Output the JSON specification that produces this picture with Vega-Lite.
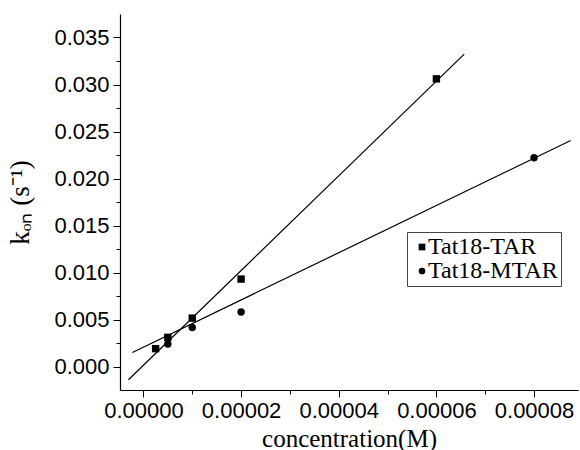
{
  "$schema": "https://vega.github.io/schema/vega-lite/v6.json",
  "width": 458,
  "height": 376,
  "autosize": "none",
  "padding": {"left": 120, "top": 14, "right": 2, "bottom": 60},
  "background": "white",
  "config": {
    "view": {"stroke": null},
    "axis": {
      "grid": false,
      "domainColor": "black",
      "domainWidth": 1.2,
      "tickColor": "black",
      "tickWidth": 1,
      "labelColor": "black",
      "labelFont": "Liberation Sans",
      "labelFontSize": 22,
      "titleColor": "black",
      "titleFont": "Liberation Serif",
      "titleFontSize": 25,
      "titleFontWeight": "normal"
    },
    "legend": {"labelFontSize": 24, "labelFont": "Liberation Serif"}
  },
  "encoding": {
    "x": {
      "field": "conc",
      "type": "quantitative",
      "scale": {"domain": [-0.0000048, 0.000089], "nice": false, "zero": false},
      "axis": {
        "title": "concentration(M)",
        "values": [0, 0.00001, 0.00002, 0.00003, 0.00004, 0.00005, 0.00006, 0.00007, 0.00008],
        "labelExpr": "round(datum.value*100000) % 2 == 0 ? format(datum.value, '.5f') : ''",
        "tickSize": {"condition": {"test": "round(datum.value*100000) % 2 == 0", "value": 7}, "value": 4},
        "labelPadding": 3,
        "titleBaseline": "alphabetic",
        "titleY": 56,
        "labelFlush": false,
        "labelOverlap": false
      }
    },
    "y": {
      "field": "kon",
      "type": "quantitative",
      "scale": {"domain": [-0.0025, 0.0375], "nice": false, "zero": false},
      "axis": {
        "title": "kₒₙ (s⁻¹)",
        "values": [0, 0.0025, 0.005, 0.0075, 0.01, 0.0125, 0.015, 0.0175, 0.02, 0.0225, 0.025, 0.0275, 0.03, 0.0325, 0.035],
        "labelExpr": "round(datum.value*400) % 2 == 0 ? format(datum.value, '.3f') : ''",
        "tickSize": {"condition": {"test": "round(datum.value*400) % 2 == 0", "value": 7}, "value": 4},
        "labelPadding": 4,
        "titleBaseline": "alphabetic",
        "titleX": -92,
        "titleFontSize": 27,
        "labelFlush": false,
        "labelOverlap": false
      }
    }
  },
  "layer": [
    {
      "data": {"values": [
        {"series": "Tat18-TAR", "conc": -0.00000307, "kon": -0.00141},
        {"series": "Tat18-TAR", "conc": 0.0000657, "kon": 0.03323},
        {"series": "Tat18-MTAR", "conc": -0.00000225, "kon": 0.00149},
        {"series": "Tat18-MTAR", "conc": 0.0000875, "kon": 0.02404}
      ]},
      "mark": {"type": "line", "color": "black", "strokeWidth": 1.2},
      "encoding": {"detail": {"field": "series"}}
    },
    {
      "data": {"values": [
        {"series": "Tat18-TAR", "conc": 0.0000025, "kon": 0.0019},
        {"series": "Tat18-TAR", "conc": 0.000005, "kon": 0.0031},
        {"series": "Tat18-TAR", "conc": 0.00001, "kon": 0.00515},
        {"series": "Tat18-TAR", "conc": 0.00002, "kon": 0.0093},
        {"series": "Tat18-TAR", "conc": 0.00006, "kon": 0.0306},
        {"series": "Tat18-MTAR", "conc": 0.000005, "kon": 0.0024},
        {"series": "Tat18-MTAR", "conc": 0.00001, "kon": 0.00415},
        {"series": "Tat18-MTAR", "conc": 0.00002, "kon": 0.0058},
        {"series": "Tat18-MTAR", "conc": 0.00008, "kon": 0.0222}
      ]},
      "mark": {"type": "point", "filled": true, "opacity": 1, "color": "black", "size": 55},
      "encoding": {
        "shape": {
          "field": "series",
          "type": "nominal",
          "scale": {"domain": ["Tat18-TAR", "Tat18-MTAR"], "range": ["square", "circle"]},
          "legend": {
            "title": null,
            "orient": "none",
            "legendX": 287,
            "legendY": 218,
            "strokeColor": "#444",
            "padding": 3,
            "labelFont": "Liberation Serif",
            "labelFontSize": 24,
            "labelColor": "black",
            "labelExpr": "datum.label + '\u00a0\u00a0\u00a0\u00a0'",
            "symbolFillColor": "black",
            "symbolStrokeColor": "black",
            "symbolSize": 45,
            "rowPadding": -5,
            "labelOffset": -6,
            "symbolOffset": 0
          }
        }
      }
    }
  ]
}
